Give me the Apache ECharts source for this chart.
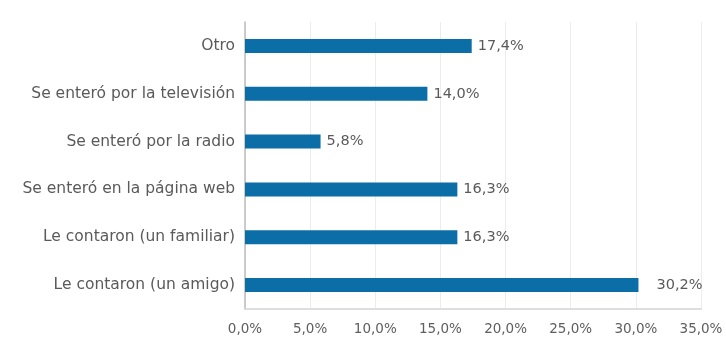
<!DOCTYPE html>
<html><head><meta charset="utf-8">
<script src="https://cdn.jsdelivr.net/npm/echarts@6/dist/echarts.min.js"></script>
<style>html,body{margin:0;padding:0;background:#fff}#c{width:726px;height:346px}</style>
</head><body><div id="c"></div>
<script>
var categories = ["Le contaron (un amigo)", "Le contaron (un familiar)", "Se enteró en la página web", "Se enteró por la radio", "Se enteró por la televisión", "Otro"];
var values = [30.2, 16.3, 16.3, 5.8, 14.0, 17.4];
var tickLabels = ["0,0%", "5,0%", "10,0%", "15,0%", "20,0%", "25,0%", "30,0%", "35,0%"];

var fmt = function (v) { return v.toFixed(1).replace('.', ',') + '%'; };
var FONT = '"DejaVu Sans"';
var chart = echarts.init(document.getElementById('c'));
chart.setOption({
  animation: false,
  grid: { left: 245, right: 25, top: 22, bottom: 37 },
  xAxis: {
    type: 'value', min: 0, max: 35, interval: 5,
    axisLine: { show: true, lineStyle: { color: '#d4d4d4', width: 1.5 } },
    axisTick: { show: false },
    splitLine: { show: true, lineStyle: { color: '#ececec' } },
    axisLabel: { color: '#5e5e5e', fontFamily: FONT, fontSize: 13.5, margin: 13,
      formatter: function (v) { return tickLabels[Math.round(v / 5)]; } }
  },
  yAxis: {
    type: 'category', data: categories,
    axisLine: { show: true, lineStyle: { color: '#bdbdbd', width: 1.5 } },
    axisTick: { show: false },
    axisLabel: { color: '#5a5a5a', fontFamily: FONT, fontSize: 15.5, margin: 10 }
  },
  series: [{
    type: 'bar', barWidth: 14,
    itemStyle: { color: '#0b6ea6' },
    data: values.map(function (v, i) {
      return { value: v, label: { distance: i === 0 ? 18 : 6 } };
    }),
    label: { show: true, position: 'right', color: '#5a5a5a', fontFamily: FONT, fontSize: 14.5,
      formatter: function (p) { return fmt(p.value); } }
  }]
});
</script></body></html>
